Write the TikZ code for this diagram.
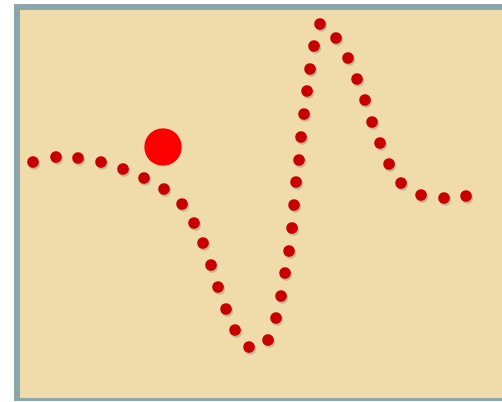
\documentclass[tikz,border=0pt]{standalone}
\usepackage{tikz}
\usetikzlibrary{shadows}
\definecolor{frame}{HTML}{8BA5AD}
\definecolor{papyrus}{HTML}{F0DCAB}
\definecolor{dotred}{HTML}{C80000}

\begin{document}
\begin{tikzpicture}[x=0.75pt,y=-0.75pt,
    dot/.style={circle,fill=dotred,inner sep=0pt,minimum size=8.7pt,
        drop shadow={opacity=0.3,fill=black!60,shadow xshift=1pt,shadow yshift=-1.5pt}},
    bigdot/.style={circle,fill=red,inner sep=0pt,minimum size=28pt}]
    \useasboundingbox (0,0) rectangle (502,401);
    % framed sheet
    \fill[frame] (14,4) rectangle (502,401);
    \fill[papyrus] (20,10) rectangle (502,398);
    % samples along the wave
    \foreach \x/\y [count=\i] in {33/162,56/157,78/158,101/162,123/169,144/178,
        164/189,182/204,194/223,203/243,211/265,218/287,226/309,235/330,
        249/347,268/340,276/318,281/296,285/273,289/251,292/228,294/205,
        296/182,299/160,301/137,304/114,307/91,310/69,314/46,320/24,
        336/38,348/58,357/79,365/100,372/122,380/143,389/164,401/183,
        421/195,444/198,466/196}
        \node[dot] (d\i) at (\x,\y) {};
    \node[bigdot] (marker) at (163,147) {};
\end{tikzpicture}
\end{document}
